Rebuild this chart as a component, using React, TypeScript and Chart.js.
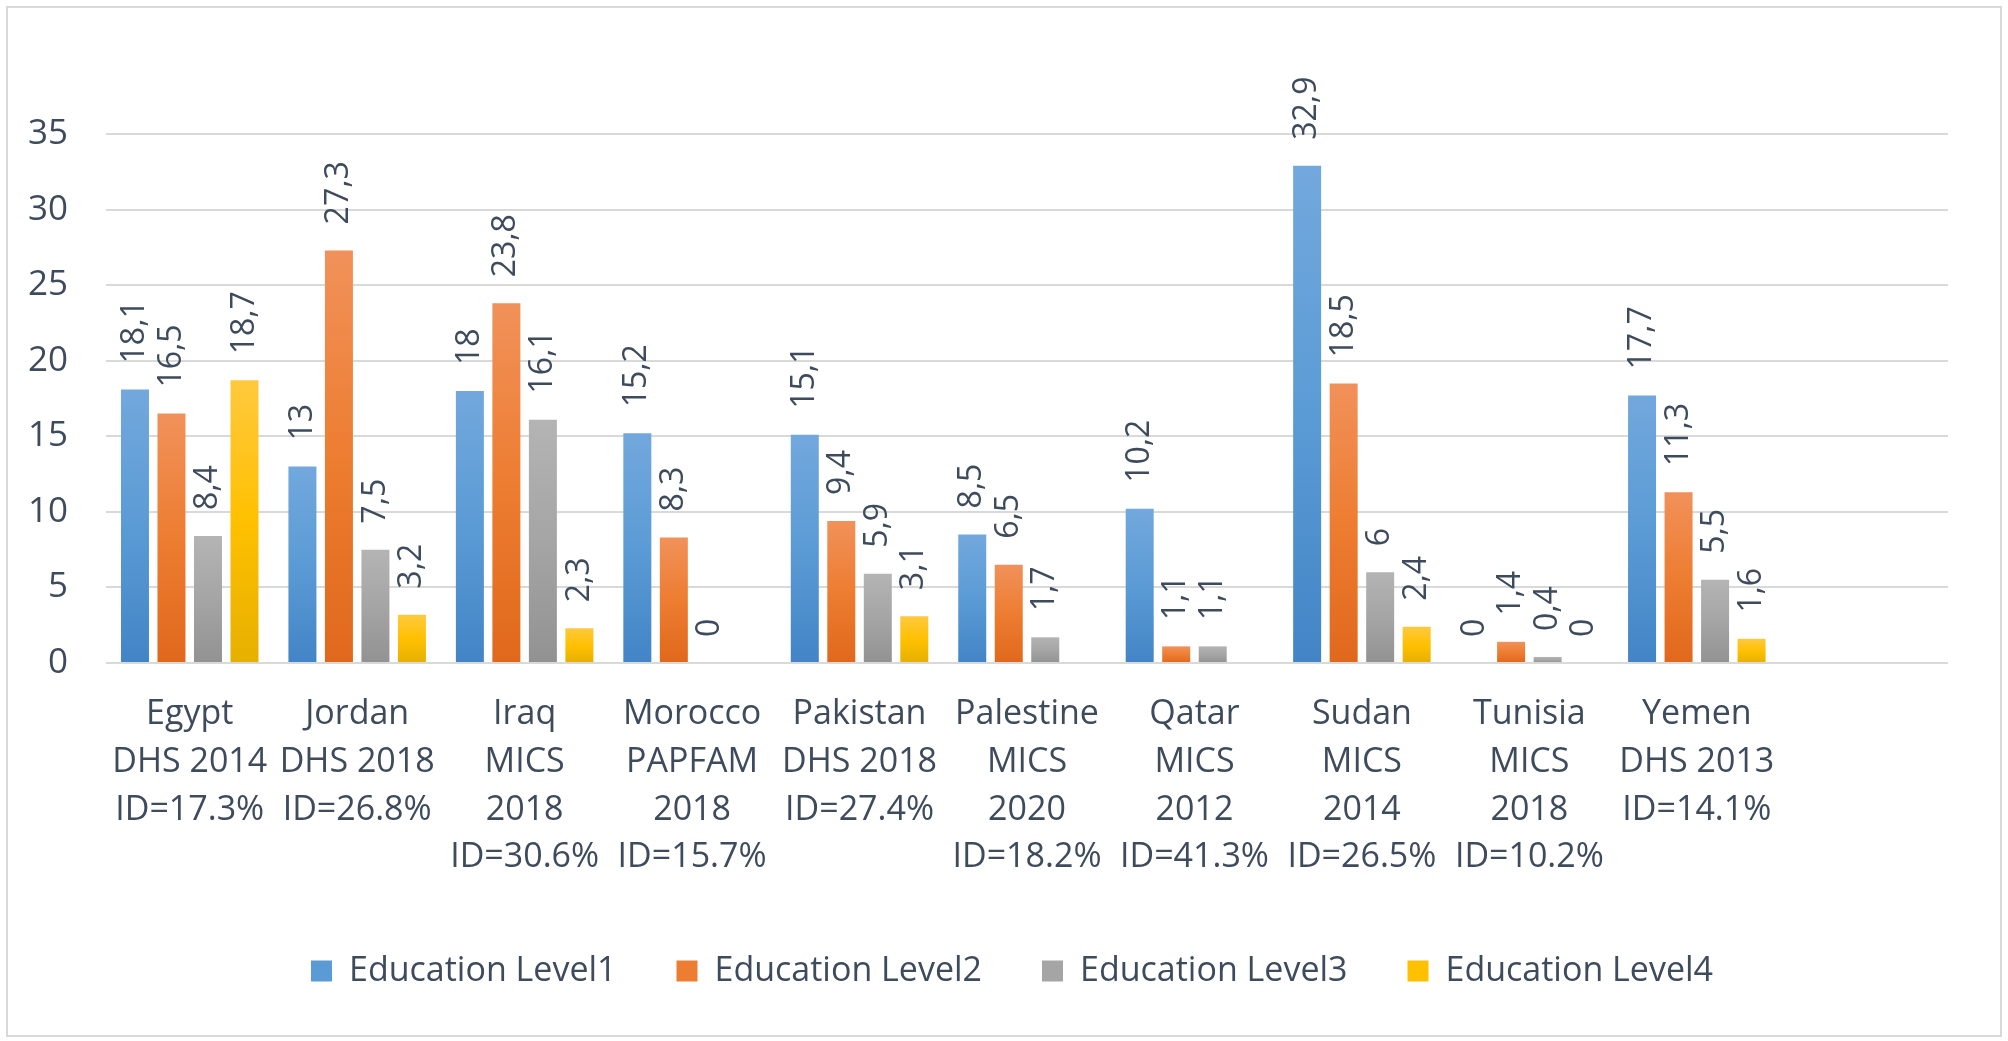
import React, { useEffect, useRef } from "react";
import { Chart, registerables } from "chart.js";

Chart.register(...registerables);

const categories: string[][] = [
  ["Egypt", "DHS 2014", "ID=17.3%"],
  ["Jordan", "DHS 2018", "ID=26.8%"],
  ["Iraq", "MICS", "2018", "ID=30.6%"],
  ["Morocco", "PAPFAM", "2018", "ID=15.7%"],
  ["Pakistan", "DHS 2018", "ID=27.4%"],
  ["Palestine", "MICS", "2020", "ID=18.2%"],
  ["Qatar", "MICS", "2012", "ID=41.3%"],
  ["Sudan", "MICS", "2014", "ID=26.5%"],
  ["Tunisia", "MICS", "2018", "ID=10.2%"],
  ["Yemen", "DHS 2013", "ID=14.1%"],
  [""],
];

const seriesNames = ["Education Level1", "Education Level2", "Education Level3", "Education Level4"];

const level1: (number | null)[] = [18.1, 13, 18, 15.2, 15.1, 8.5, 10.2, 32.9, 0, 17.7, null];
const level2: (number | null)[] = [16.5, 27.3, 23.8, 8.3, 9.4, 6.5, 1.1, 18.5, 1.4, 11.3, null];
const level3: (number | null)[] = [8.4, 7.5, 16.1, 0, 5.9, 1.7, 1.1, 6, 0.4, 5.5, null];
const level4: (number | null)[] = [18.7, 3.2, 2.3, null, 3.1, null, null, 2.4, 0, 1.6, null];

const yTicks = [0, 5, 10, 15, 20, 25, 30, 35];

const palettes = [
  { light: "#72A8DD", base: "#5B9BD5", dark: "#4284C6" },
  { light: "#F1915A", base: "#ED7D31", dark: "#E0681C" },
  { light: "#B4B4B4", base: "#A5A5A5", dark: "#929292" },
  { light: "#FFC93E", base: "#FFC000", dark: "#E6B000" },
];

const TEXT = "#3E4B5D";
const FONT = "'Open Sans', 'DejaVu Sans', sans-serif";

function makeGradient(i: number) {
  return (ctx: any) => {
    const chart = ctx.chart;
    const y = chart.scales?.y;
    const v = ctx.raw;
    const p = palettes[i];
    if (!y || v === null || v === undefined || ctx.type !== "data") return p.base;
    const top = y.getPixelForValue(v);
    const bottom = y.getPixelForValue(0);
    if (!isFinite(top) || !isFinite(bottom) || Math.abs(bottom - top) < 1) return p.base;
    const g = chart.ctx.createLinearGradient(0, top, 0, bottom);
    g.addColorStop(0, p.light);
    g.addColorStop(0.5, p.base);
    g.addColorStop(1, p.dark);
    return g;
  };
}

const dataLabelPlugin = {
  id: "rotatedLabels",
  afterDatasetsDraw(chart: any) {
    const ctx = chart.ctx;
    ctx.save();
    ctx.font = `32px ${FONT}`;
    ctx.fillStyle = TEXT;
    ctx.textAlign = "left";
    ctx.textBaseline = "middle";
    chart.data.datasets.forEach((ds: any, di: number) => {
      const meta = chart.getDatasetMeta(di);
      meta.data.forEach((el: any, idx: number) => {
        const v = ds.data[idx];
        if (v === null || v === undefined) return;
        const txt = String(v).replace(".", ",");
        ctx.save();
        ctx.translate(el.x, el.y - 26);
        ctx.rotate(-Math.PI / 2);
        ctx.fillText(txt, 0, 0);
        ctx.restore();
      });
    });
    ctx.restore();
  },
};

// nudge the legend a little to the left, as in the reference
const legendShiftPlugin = {
  id: "legendShift",
  afterLayout(chart: any) {
    const lg = chart.legend;
    if (!lg) return;
    lg.left -= 15;
    lg.right -= 15;
  },
};

export default function App() {
  const ref = useRef<HTMLCanvasElement | null>(null);

  useEffect(() => {
    if (!ref.current) return;
    const data = [level1, level2, level3, level4];
    const chart = new Chart(ref.current, {
      type: "bar",
      data: {
        labels: categories as any,
        datasets: data.map((d, i) => ({
          label: seriesNames[i],
          data: d,
          backgroundColor: makeGradient(i) as any,
          borderWidth: 0,
          categoryPercentage: 0.872,
          barPercentage: 0.767,
        })),
      },
      options: {
        animation: false,
        responsive: false,
        maintainAspectRatio: false,
        devicePixelRatio: 1,
        layout: { padding: { top: 134, left: 0, right: 60, bottom: 43 } },
        plugins: {
          legend: {
            position: "bottom",
            fullSize: false,
            labels: {
              font: { size: 34, family: FONT },
              color: TEXT,
              boxWidth: 21,
              boxHeight: 21,
              padding: 60,
              generateLabels: (chart: any) =>
                chart.data.datasets.map((ds: any, i: number) => ({
                  text: ds.label,
                  fillStyle: palettes[i].base,
                  strokeStyle: palettes[i].base,
                  lineWidth: 0,
                  hidden: false,
                  datasetIndex: i,
                  fontColor: TEXT,
                })),
            },
          },
          tooltip: { enabled: false },
        },
        scales: {
          x: {
            grid: { display: false, drawTicks: false },
            border: { display: false },
            ticks: {
              autoSkip: false,
              maxRotation: 0,
              minRotation: 0,
              padding: 27,
              color: TEXT,
              font: { size: 34, family: FONT, lineHeight: 1.41 },
            },
            afterFit: (scale: any) => {
              scale.height = 231;
            },
          },
          y: {
            min: 0,
            max: 35,
            afterBuildTicks: (scale: any) => {
              scale.ticks = yTicks.map((v) => ({ value: v }));
            },
            grid: { color: "#D9D9D9", lineWidth: 2, drawTicks: false },
            border: { display: false },
            ticks: {
              padding: 38,
              color: TEXT,
              font: { size: 35, family: FONT },
            },
            afterFit: (scale: any) => {
              scale.width = 106;
            },
          },
        },
      },
      plugins: [dataLabelPlugin, legendShiftPlugin],
    });
    return () => chart.destroy();
  }, []);

  return (
    <div style={{ position: "fixed", left: 0, top: 0, width: 2008, height: 1041, background: "#fff" }}>
      <canvas ref={ref} width={2008} height={1041} style={{ position: "absolute", left: 0, top: 0, width: 2008, height: 1041 }} />
      <div
        style={{
          position: "absolute",
          left: 6,
          top: 6,
          width: 1992,
          height: 1027,
          border: "2px solid #D9D9D9",
          pointerEvents: "none",
        }}
      />
    </div>
  );
}
